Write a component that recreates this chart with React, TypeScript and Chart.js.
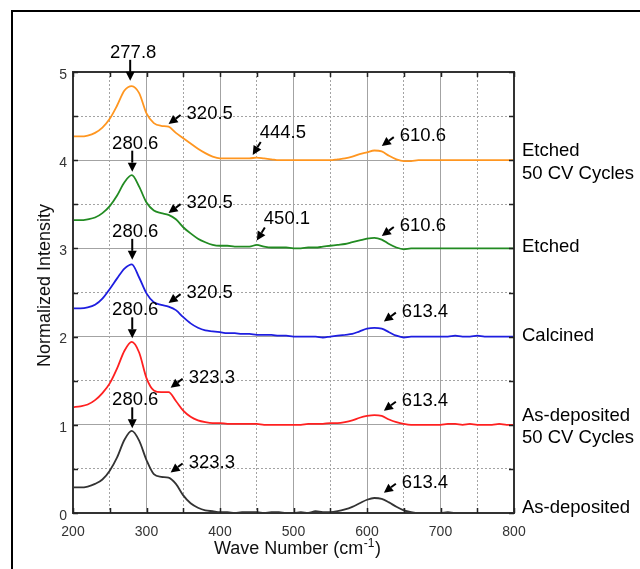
import React, { useEffect, useRef } from "react";
import { Chart, registerables } from "chart.js";

Chart.register(...registerables);

// Raman shift sample positions (cm-1)
const waveNumbers = [
  200, 210, 220, 230, 240, 250, 260, 270, 280, 290,
  300, 310, 320, 330, 340, 350, 360, 370, 380, 390,
  400, 410, 420, 430, 440, 450, 460, 470, 480, 490,
  500, 510, 520, 530, 540, 550, 560, 570, 580, 590,
  600, 610, 620, 630, 640, 650, 660, 670, 680, 690,
  700, 710, 720, 730, 740, 750, 760, 770, 780, 790, 800,
];

// Normalized spectra, each stacked on its own integer baseline
const asDeposited = [
  0.29, 0.29, 0.30, 0.33, 0.38, 0.48, 0.63, 0.83, 0.93, 0.82,
  0.60, 0.44, 0.41, 0.40, 0.33, 0.20, 0.11, 0.06, 0.03, 0.02,
  0.01, 0.01, 0.00, 0.01, 0.01, 0.01, 0.00, 0.01, 0.01, 0.00,
  0.00, 0.01, 0.00, 0.02, 0.01, 0.01, 0.02, 0.04, 0.07, 0.11,
  0.15, 0.17, 0.16, 0.12, 0.07, 0.03, 0.01, 0.00, 0.00, 0.00,
  0.00, 0.01, 0.00, 0.00, 0.00, 0.00, 0.00, 0.00, 0.00, 0.00, 0.00,
];

const asDeposited50 = [
  1.20, 1.21, 1.23, 1.28, 1.36, 1.47, 1.64, 1.84, 1.94, 1.82,
  1.53, 1.39, 1.37, 1.37, 1.27, 1.16, 1.09, 1.05, 1.03, 1.02,
  1.02, 1.01, 1.01, 1.01, 1.01, 1.01, 1.00, 1.00, 1.00, 1.00,
  1.00, 1.00, 1.01, 1.01, 1.01, 1.02, 1.02, 1.03, 1.05, 1.08,
  1.10, 1.11, 1.10, 1.06, 1.03, 1.01, 1.00, 1.00, 1.00, 1.00,
  1.00, 1.01, 1.01, 1.00, 1.01, 1.00, 1.00, 1.00, 1.01, 1.00, 1.00,
];

const calcined = [
  2.32, 2.32, 2.33, 2.36, 2.43, 2.54, 2.66, 2.77, 2.82, 2.67,
  2.49, 2.39, 2.36, 2.34, 2.30, 2.22, 2.15, 2.10, 2.07, 2.06,
  2.05, 2.04, 2.04, 2.03, 2.03, 2.02, 2.02, 2.02, 2.01, 2.01,
  2.00, 2.00, 2.00, 2.00, 1.99, 2.00, 2.01, 2.02, 2.03, 2.06,
  2.09, 2.10, 2.09, 2.05, 2.01, 1.99, 2.00, 2.00, 2.00, 2.00,
  2.00, 2.00, 2.01, 2.00, 2.00, 2.01, 2.00, 2.00, 2.00, 2.00, 2.00,
];

const etched = [
  3.32, 3.32, 3.33, 3.35, 3.40, 3.48, 3.60, 3.75, 3.83, 3.70,
  3.52, 3.43, 3.40, 3.38, 3.33, 3.24, 3.17, 3.11, 3.07, 3.04,
  3.03, 3.03, 3.02, 3.02, 3.02, 3.04, 3.02, 3.01, 3.01, 3.01,
  3.00, 3.00, 3.01, 3.01, 3.02, 3.03, 3.04, 3.05, 3.07, 3.09,
  3.11, 3.12, 3.10, 3.05, 3.01, 2.99, 3.00, 3.00, 3.00, 3.00,
  3.00, 3.00, 3.00, 3.00, 3.00, 3.00, 3.00, 3.00, 3.00, 3.00, 3.00,
];

const etched50 = [
  4.27, 4.27, 4.28, 4.31, 4.37, 4.47, 4.62, 4.79, 4.84, 4.76,
  4.53, 4.42, 4.39, 4.38, 4.31, 4.25, 4.19, 4.13, 4.08, 4.04,
  4.02, 4.02, 4.02, 4.02, 4.02, 4.03, 4.02, 4.01, 4.00, 4.00,
  4.00, 4.00, 4.00, 4.00, 4.00, 4.00, 4.01, 4.02, 4.04, 4.07,
  4.09, 4.11, 4.10, 4.05, 4.01, 3.99, 3.99, 4.00, 4.00, 4.00,
  4.00, 4.00, 4.00, 4.00, 4.00, 4.00, 4.00, 4.00, 4.00, 4.00, 4.00,
];

const seriesValues = [asDeposited, asDeposited50, calcined, etched, etched50];
const seriesColors = ["#333333", "#ff2020", "#1e1ee0", "#228b22", "#ff9620"];
const seriesBaselines = [0, 1, 2, 3, 4];
const seriesNames = [
  ["As-deposited"],
  ["As-deposited", "50 CV Cycles"],
  ["Calcined"],
  ["Etched"],
  ["Etched", "50 CV Cycles"],
];

// Main-peak markers: vertical arrows; [label, wave number, arrow tip intensity]
const mainPeaks: [string, number, number][] = [
  ["277.8", 277.8, 4.9],
  ["280.6", 280.6, 3.87],
  ["280.6", 280.6, 2.87],
  ["280.6", 280.6, 1.98],
  ["280.6", 280.6, 0.96],
];

// Side-peak markers: slanted arrows; [label, wave number, arrow tip intensity]
const sidePeaks: [string, number, number][] = [
  ["320.5", 320.5, 4.41],
  ["320.5", 320.5, 3.4],
  ["320.5", 320.5, 2.38],
  ["323.3", 323.3, 1.42],
  ["323.3", 323.3, 0.46],
  ["610.6", 610.6, 4.16],
  ["610.6", 610.6, 3.14],
  ["613.4", 613.4, 2.17],
  ["613.4", 613.4, 1.16],
  ["613.4", 613.4, 0.23],
];

// Weak-band markers: steep arrows; [label, wave number, arrow tip intensity]
const weakPeaks: [string, number, number][] = [
  ["444.5", 444.5, 4.06],
  ["450.1", 450.1, 3.09],
];

const FONT = '"Liberation Sans", Arial, Helvetica, sans-serif';

function drawArrow(ctx: CanvasRenderingContext2D, x0: number, y0: number, x1: number, y1: number) {
  const ang = Math.atan2(y1 - y0, x1 - x0);
  const headLen = 9;
  const headHalf = 4.5;
  const bx = x1 - headLen * Math.cos(ang);
  const by = y1 - headLen * Math.sin(ang);
  ctx.beginPath();
  ctx.moveTo(x0, y0);
  ctx.lineTo(bx, by);
  ctx.lineWidth = 2;
  ctx.strokeStyle = "#000";
  ctx.stroke();
  ctx.beginPath();
  ctx.moveTo(x1, y1);
  ctx.lineTo(bx + headHalf * Math.sin(ang), by - headHalf * Math.cos(ang));
  ctx.lineTo(bx - headHalf * Math.sin(ang), by + headHalf * Math.cos(ang));
  ctx.closePath();
  ctx.fillStyle = "#000";
  ctx.fill();
}

const decorPlugin = {
  id: "decor",
  afterDraw(chart: any) {
    const { ctx, chartArea: a } = chart;
    const xs = chart.scales.x;
    const ys = chart.scales.y;
    ctx.save();

    // outer frame
    ctx.strokeStyle = "#000";
    ctx.lineWidth = 2;
    ctx.strokeRect(12, 11, 900, 900);

    // plot box
    ctx.strokeStyle = "#333";
    ctx.lineWidth = 2;
    ctx.strokeRect(a.left, a.top, a.right - a.left, a.bottom - a.top);

    // inward tick marks
    ctx.strokeStyle = "#222";
    ctx.lineWidth = 1.5;
    ctx.beginPath();
    for (const t of xs.ticks) {
      const px = Math.round(xs.getPixelForValue(t.value)) + 0.5;
      ctx.moveTo(px, a.top);
      ctx.lineTo(px, a.top + 5);
      ctx.moveTo(px, a.bottom);
      ctx.lineTo(px, a.bottom - 5);
    }
    for (const t of ys.ticks) {
      const py = Math.round(ys.getPixelForValue(t.value)) + 0.5;
      ctx.moveTo(a.left, py);
      ctx.lineTo(a.left + 5, py);
      ctx.moveTo(a.right, py);
      ctx.lineTo(a.right - 5, py);
    }
    ctx.stroke();

    ctx.fillStyle = "#111";
    // x axis title with superscript
    const cx = (a.left + a.right) / 2 + 4;
    const by = 554;
    ctx.font = `18px ${FONT}`;
    const p1 = "Wave Number (cm";
    const p3 = ")";
    const w1 = ctx.measureText(p1).width;
    const w3 = ctx.measureText(p3).width;
    ctx.font = `12px ${FONT}`;
    const sup = "-1";
    const w2 = ctx.measureText(sup).width + 1;
    const total = w1 + w2 + w3;
    const sx = cx - total / 2;
    ctx.textAlign = "left";
    ctx.textBaseline = "alphabetic";
    ctx.font = `18px ${FONT}`;
    ctx.fillText(p1, sx, by);
    ctx.font = `12px ${FONT}`;
    ctx.fillText(sup, sx + w1 + 0.5, by - 7);
    ctx.font = `18px ${FONT}`;
    ctx.fillText(p3, sx + w1 + w2, by);

    // y axis title
    ctx.save();
    ctx.translate(45, (a.top + a.bottom) / 2 - 7);
    ctx.rotate(-Math.PI / 2);
    ctx.textAlign = "center";
    ctx.textBaseline = "middle";
    ctx.font = `18px ${FONT}`;
    ctx.fillText("Normalized Intensity", 0, 0);
    ctx.restore();

    // sample names at the right of each trace
    ctx.font = `18.5px ${FONT}`;
    ctx.textAlign = "left";
    ctx.textBaseline = "middle";
    ctx.fillStyle = "#000";
    seriesNames.forEach((lines, i) => {
      const yb = ys.getPixelForValue(seriesBaselines[i]);
      const mid = Math.min(yb, a.bottom - 4) + (lines.length === 2 ? 2 : -1);
      const lh = 22.5;
      lines.forEach((ln, k) => {
        const yy = mid + (k - (lines.length - 1) / 2) * lh;
        ctx.fillText(ln, a.right + 8, yy);
      });
    });

    // peak annotations
    ctx.font = `18.5px ${FONT}`;
    for (const [label, wave, tip] of mainPeaks) {
      const tx = xs.getPixelForValue(wave);
      const ty = ys.getPixelForValue(tip);
      drawArrow(ctx, tx, ty - 21, tx, ty);
      ctx.textAlign = "center";
      ctx.textBaseline = "middle";
      ctx.fillStyle = "#000";
      ctx.fillText(label, tx + 3, ty - 28);
    }
    for (const [label, wave, tip] of sidePeaks) {
      const tx = xs.getPixelForValue(wave) + 7;
      const ty = ys.getPixelForValue(tip);
      const ox = tx + 12;
      const oy = ty - 9;
      drawArrow(ctx, ox, oy, tx, ty);
      ctx.textAlign = "left";
      ctx.textBaseline = "middle";
      ctx.fillStyle = "#000";
      ctx.fillText(label, ox + 6, oy - 1);
    }
    for (const [label, wave, tip] of weakPeaks) {
      const tx = xs.getPixelForValue(wave);
      const ty = ys.getPixelForValue(tip);
      const ox = tx + 8;
      const oy = ty - 13;
      drawArrow(ctx, ox, oy, tx, ty);
      ctx.textAlign = "left";
      ctx.textBaseline = "middle";
      ctx.fillStyle = "#000";
      ctx.fillText(label, ox - 1, oy - 9);
    }
    ctx.restore();
  },
};

export default function App() {
  const canvasRef = useRef<HTMLCanvasElement | null>(null);

  useEffect(() => {
    const canvas = canvasRef.current;
    if (!canvas) return;
    const datasets = seriesValues.map((vals, i) => ({
      label: seriesNames[i].join(" "),
      data: vals.map((v, k) => ({ x: waveNumbers[k], y: v })),
      borderColor: seriesColors[i],
      backgroundColor: seriesColors[i],
      borderWidth: 1.8,
      pointRadius: 0,
      cubicInterpolationMode: "monotone" as const,
      fill: false,
    }));

    const chart = new Chart(canvas, {
      type: "line",
      data: { datasets },
      options: {
        responsive: false,
        animation: false,
        layout: { padding: { left: 0, right: 126, top: 72, bottom: 0 } },
        plugins: { legend: { display: false }, tooltip: { enabled: false } },
        scales: {
          x: {
            type: "linear",
            min: 200,
            max: 800,
            afterFit: (s: any) => {
              s.height = 56;
            },
            ticks: {
              stepSize: 50,
              autoSkip: false,
              maxRotation: 0,
              padding: 11,
              color: "#333",
              font: { family: FONT, size: 14 },
              callback: (v: any) => (Number(v) % 100 === 0 ? String(v) : ""),
            },
            grid: {
              drawTicks: false,
              color: "#a3a3a3",
              lineWidth: 1,
            },
            border: {
              display: false,
              dash: (ctx: any) =>
                ctx.tick && ctx.tick.value % 100 !== 0 ? [2, 2] : [],
            },
          },
          y: {
            type: "linear",
            min: 0,
            max: 5,
            afterFit: (s: any) => {
              s.width = 73;
            },
            ticks: {
              stepSize: 0.5,
              autoSkip: false,
              padding: 6,
              labelOffset: 3,
              color: "#333",
              font: { family: FONT, size: 14 },
              callback: (v: any) => (Number.isInteger(Number(v)) ? String(v) : ""),
            },
            grid: {
              drawTicks: false,
              color: "#a3a3a3",
              lineWidth: 1,
            },
            border: {
              display: false,
              dash: (ctx: any) =>
                ctx.tick && !Number.isInteger(ctx.tick.value) ? [2, 2] : [],
            },
          },
        },
      },
      plugins: [decorPlugin],
    });
    return () => chart.destroy();
  }, []);

  return (
    <div style={{ position: "fixed", left: 0, top: 0, width: 640, height: 569, background: "#fff" }}>
      <canvas ref={canvasRef} width={640} height={569} style={{ display: "block" }} />
    </div>
  );
}
